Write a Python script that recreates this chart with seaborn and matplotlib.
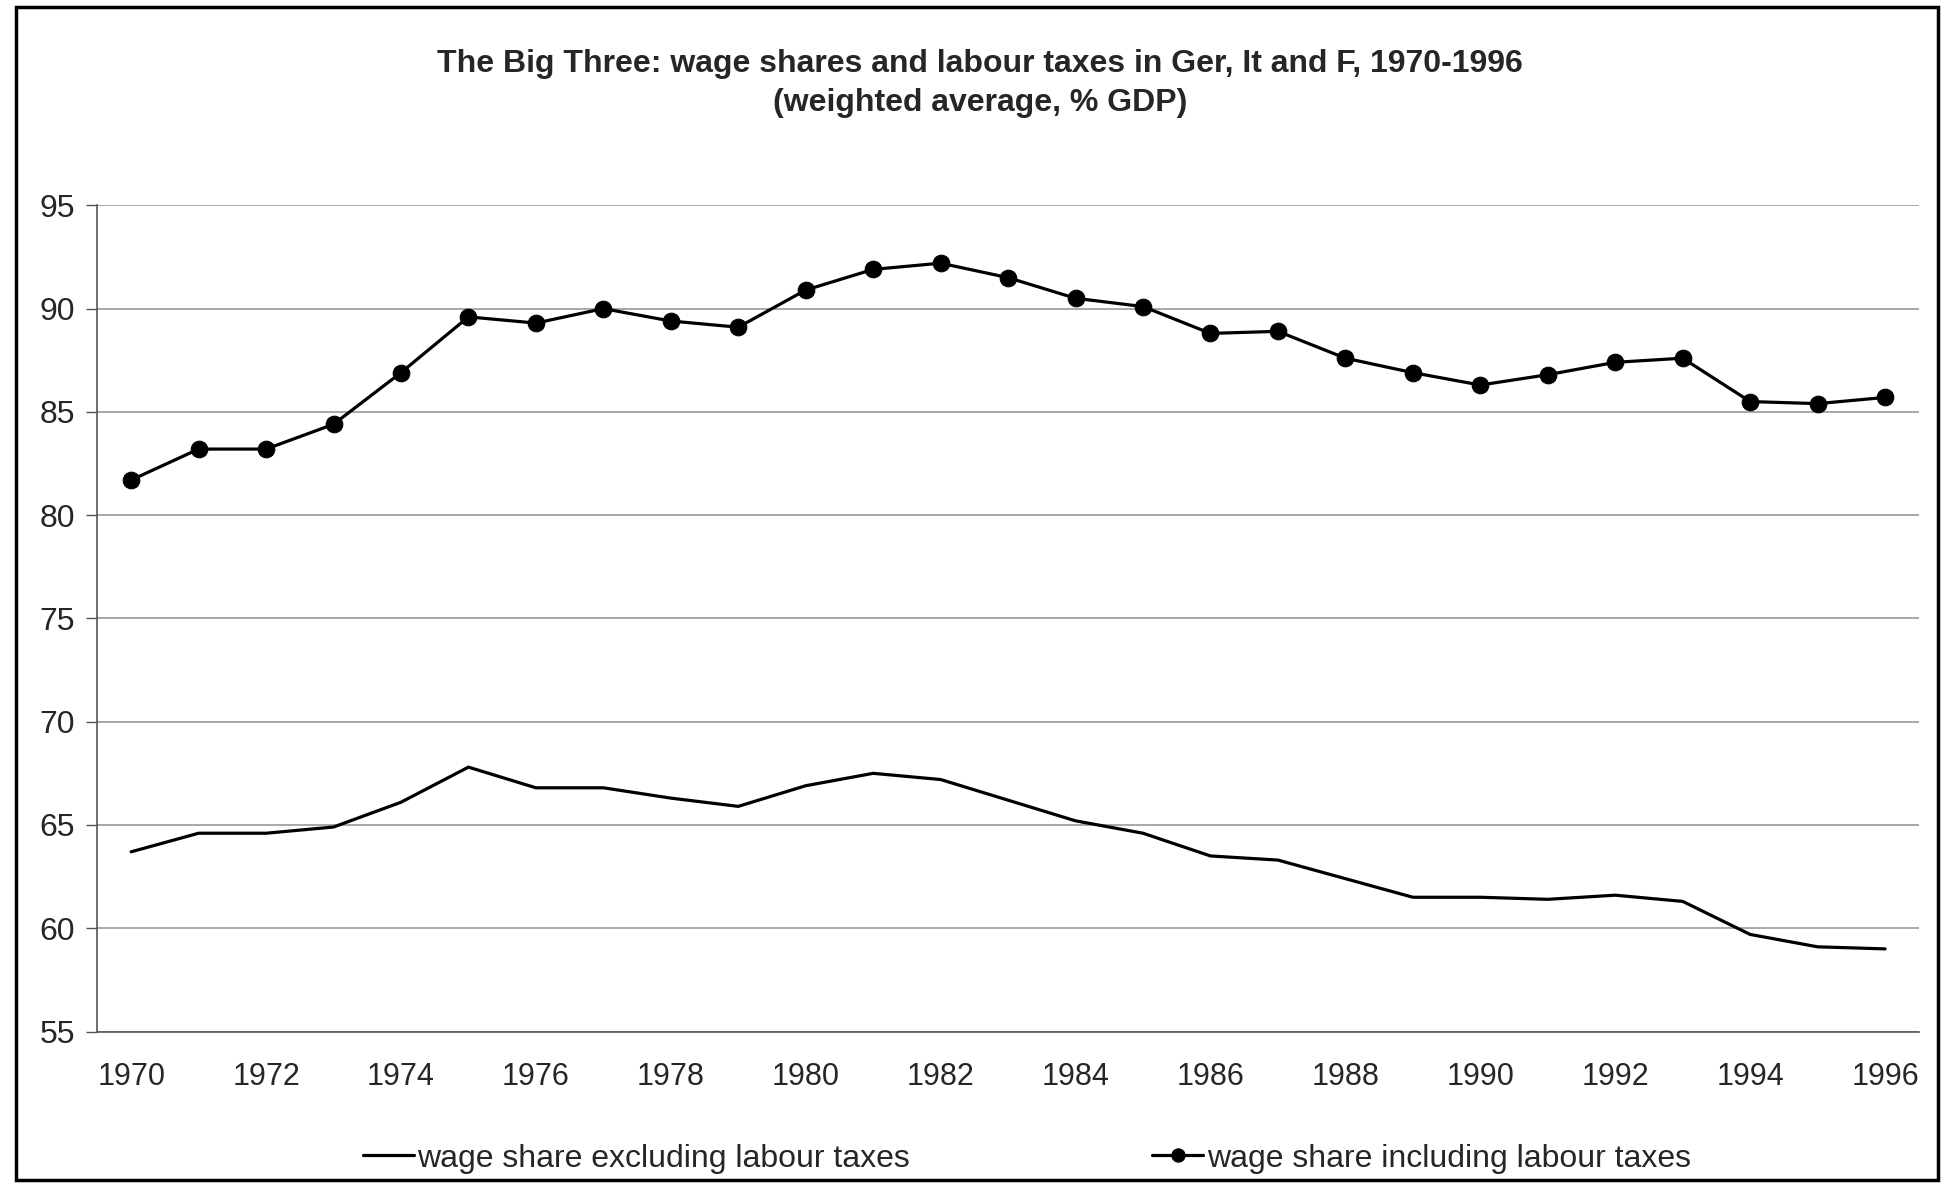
import matplotlib.pyplot as plt
import numpy as np
import pandas as pd
import seaborn as sns
from matplotlib.patches import Rectangle

years = list(range(1970, 1997))
incl_taxes = [81.7, 83.2, 83.2, 84.4, 86.9, 89.6, 89.3, 90.0, 89.4, 89.1,
              90.9, 91.9, 92.2, 91.5, 90.5, 90.1, 88.8, 88.9, 87.6, 86.9,
              86.3, 86.8, 87.4, 87.6, 85.5, 85.4, 85.7]
excl_taxes = [63.7, 64.6, 64.6, 64.9, 66.1, 67.8, 66.8, 66.8, 66.3, 65.9,
              66.9, 67.5, 67.2, 66.2, 65.2, 64.6, 63.5, 63.3, 62.4, 61.5,
              61.5, 61.4, 61.6, 61.3, 59.7, 59.1, 59.0]
label_excl = "wage share excluding labour taxes"
label_incl = "wage share including labour taxes"
title = ("The Big Three: wage shares and labour taxes in Ger, It and F, 1970-1996\n"
         "(weighted average, % GDP)")


def make_plot():
    sns.set_style("white")
    plt.rcParams["font.family"] = ["Liberation Sans", "DejaVu Sans"]

    df = pd.DataFrame({"year": years, "excl": excl_taxes, "incl": incl_taxes})

    fig = plt.figure(figsize=(19.48, 11.87), dpi=100)
    ax = fig.add_axes([0.05, 0.131, 0.935, 0.696])

    sns.lineplot(data=df, x="year", y="excl", color="black", linewidth=2.3,
                 label=label_excl, ax=ax, legend=False)
    sns.lineplot(data=df, x="year", y="incl", color="black", linewidth=2.3,
                 marker="o", markersize=12, markeredgecolor="black",
                 label=label_incl, ax=ax, legend=False)

    ax.set_xlim(1969.5, 1996.5)
    ax.set_ylim(55, 95)
    ax.set_yticks(np.arange(55, 96, 5))
    ax.set_xticks(years[::2])
    ax.set_xticks(np.arange(1969.5, 1997, 1), minor=True)
    ax.tick_params(axis="x", which="major", length=0, pad=22, labelsize=22)
    ax.tick_params(axis="x", which="minor", length=9, width=1, color="#555555",
                   direction="out")
    ax.tick_params(axis="y", length=8, width=1, color="#555555", pad=8,
                   labelsize=23, left=True)
    ax.set_xlabel("")
    ax.set_ylabel("")
    ax.yaxis.grid(True, color="#999999", linewidth=1.2)
    for s in ["top", "right"]:
        ax.spines[s].set_visible(False)
    for s in ["left", "bottom"]:
        ax.spines[s].set_color("#555555")
        ax.spines[s].set_linewidth(1.2)

    fig.suptitle(title, fontsize=23, fontweight="bold", x=0.503, y=0.959,
                 va="top", linespacing=1.4)

    handles, labels = ax.get_legend_handles_labels()
    fig.legend(handles, labels, loc="center", bbox_to_anchor=(0.527, 0.024),
               ncol=2, frameon=False, fontsize=23, handlelength=1.6,
               handletextpad=0.1, columnspacing=7.6, markerscale=0.8)

    fig.patches.append(Rectangle((0.008, 0.006), 0.987, 0.988,
                                 transform=fig.transFigure, fill=False,
                                 edgecolor="black", linewidth=2.5))

    plt.savefig("out.png", dpi=100)


if __name__ == "__main__":
    make_plot()
